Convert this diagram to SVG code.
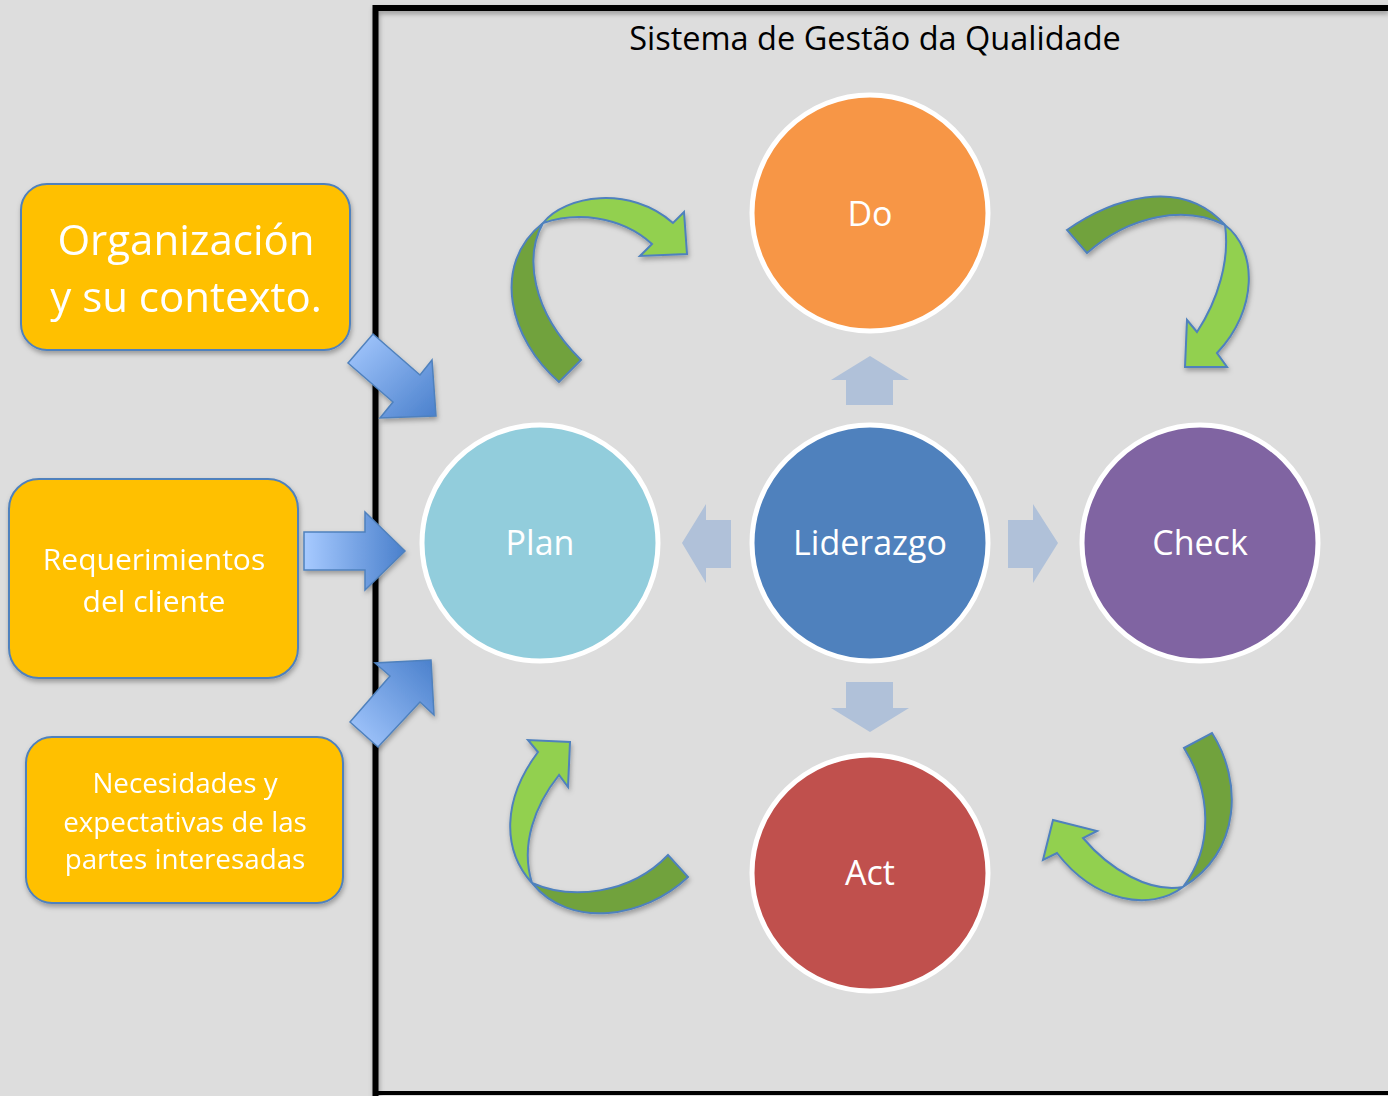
<svg xmlns="http://www.w3.org/2000/svg" width="1388" height="1096" viewBox="0 0 1388 1096">
<defs>
<style>
.bg{fill:#dddddd}
.frame{fill:none;stroke:#000;stroke-width:6}
.title{font-family:"Open Sans","Noto Sans",sans-serif;font-size:32.5px;fill:#000;text-anchor:middle}
.box{fill:#ffc000;stroke:#4f81bd;stroke-width:2}
.btxt{font-family:"Open Sans","Noto Sans",sans-serif;fill:#fff;text-anchor:middle}
.circ{stroke:#fff;stroke-width:5}
.ctxt{font-family:"Open Sans","Noto Sans",sans-serif;font-size:34px;fill:#fff;text-anchor:middle}
.lead{fill:#b0c1d9}
.inarrow{stroke:#4f81bd;stroke-width:1.5;stroke-linejoin:miter}
.gl{fill:#92d050;stroke:#4f81bd;stroke-width:2;stroke-linejoin:miter}
.gd{fill:#71a23d;stroke:#4f81bd;stroke-width:2;stroke-linejoin:miter}
</style>
<linearGradient id="gR" x1="0" y1="0" x2="1" y2="0">
<stop offset="0" stop-color="#a7caff"/><stop offset="1" stop-color="#4a80cc"/>
</linearGradient>
<linearGradient id="gDR" x1="0" y1="0" x2="1" y2="1">
<stop offset="0" stop-color="#a7caff"/><stop offset="1" stop-color="#4a80cc"/>
</linearGradient>
<linearGradient id="gUR" x1="0" y1="1" x2="1" y2="0">
<stop offset="0" stop-color="#a7caff"/><stop offset="1" stop-color="#4a80cc"/>
</linearGradient>
<filter id="sh" x="-10%" y="-10%" width="130%" height="130%">
<feDropShadow dx="1" dy="3" stdDeviation="2.5" flood-color="#000" flood-opacity="0.3"/>
</filter>
</defs>
<rect class="bg" x="0" y="0" width="1388" height="1096"/>
<path class="frame" d="M375.5 1096 V8 H1388" filter="url(#sh)"/>
<line x1="375.5" y1="1093" x2="1388" y2="1093" stroke="#000" stroke-width="4"/>
<text class="title" x="875" y="50">Sistema de Gestão da Qualidade</text>

<g id="box-organizacion" filter="url(#sh)">
<rect class="box" x="21" y="184" width="329" height="166" rx="26"/>
<text class="btxt" font-size="42" x="186" y="255">Organización</text>
<text class="btxt" font-size="42" x="186" y="312">y su contexto.</text>
</g>
<g id="box-requerimientos" filter="url(#sh)">
<rect class="box" x="9" y="479" width="289" height="199" rx="30"/>
<text class="btxt" font-size="30" x="154" y="570">Requerimientos</text>
<text class="btxt" font-size="30" x="154" y="612">del cliente</text>
</g>
<g id="box-necesidades" filter="url(#sh)">
<rect class="box" x="26" y="737" width="317" height="166" rx="26"/>
<text class="btxt" font-size="27.8" x="185" y="793">Necesidades y</text>
<text class="btxt" font-size="27.8" x="185" y="832">expectativas de las</text>
<text class="btxt" font-size="27.8" x="185" y="869">partes interesadas</text>
</g>

<g id="connectors">
<g id="input-arrows" filter="url(#sh)">
<polygon class="inarrow" fill="url(#gDR)" points="348,363 373,334 420,375 432,360 436,416 380,418 393,402"/>
<polygon class="inarrow" fill="url(#gR)" points="304,532 365,532 365,512 405,551 365,590 365,570 304,570"/>
<polygon class="inarrow" fill="url(#gUR)" points="350,722 390,676 375,663 431,660 434,715 420,702 378,747"/>
</g>
<g id="leadership-arrows">
<polygon class="lead" points="870,356 909,380 893,380 893,405 846,405 846,380 831,380"/>
<polygon class="lead" points="682,543 706,504 706,520 731,520 731,568 706,568 706,583"/>
<polygon class="lead" points="1058,543 1033,504 1033,520 1008,520 1008,568 1033,568 1033,583"/>
<polygon class="lead" points="870,732 909,708 893,708 893,682 846,682 846,708 831,708"/>
</g>
<g id="cycle-arrows" filter="url(#sh)">
<path class="gd" d="M559 382 C510 340, 490 265, 543 223 C525 255, 530 310, 581 360 Z"/>
<path class="gl" d="M543 223 C565 195, 630 185, 673 223 L684 212 L687 254 L640 256 L652 244 C620 215, 575 212, 543 223 Z"/>
<path class="gd" d="M1067 230 C1110 200, 1180 175, 1225 225 C1185 205, 1130 215, 1087 253 Z"/>
<path class="gl" d="M1225 225 C1258 250, 1258 310, 1217 353 L1227 367 L1185 367 L1187 320 L1197 332 C1218 300, 1230 260, 1225 225 Z"/>
<path class="gd" d="M1184 748 L1212 733 C1242 780, 1242 850, 1183 887 C1215 845, 1210 790, 1184 748 Z"/>
<path class="gl" d="M1183 887 C1150 912, 1095 902, 1057 853 L1043 860 L1053 820 L1097 831 L1083 838 C1110 870, 1150 893, 1183 887 Z"/>
<path class="gd" d="M532 883 C570 900, 630 895, 668 855 L688 877 C645 918, 570 930, 532 883 Z"/>
<path class="gl" d="M532 883 C502 850, 502 800, 538 752 L528 740 L570 742 L568 787 L559 775 C535 805, 520 845, 532 883 Z"/>
</g>
</g>

<g id="node-do">
<circle class="circ" cx="870" cy="213" r="118" fill="#f79646"/>
<text class="ctxt" x="870" y="226">Do</text>
</g>
<g id="node-plan">
<circle class="circ" cx="540" cy="543" r="118" fill="#92cddc"/>
<text class="ctxt" x="540" y="555">Plan</text>
</g>
<g id="node-liderazgo">
<circle class="circ" cx="870" cy="543" r="118" fill="#4f81bd"/>
<text class="ctxt" x="870" y="555">Liderazgo</text>
</g>
<g id="node-check">
<circle class="circ" cx="1200" cy="543" r="118" fill="#8064a2"/>
<text class="ctxt" x="1200" y="555">Check</text>
</g>
<g id="node-act">
<circle class="circ" cx="870" cy="873" r="118" fill="#c0504d"/>
<text class="ctxt" x="870" y="885">Act</text>
</g>
</svg>
